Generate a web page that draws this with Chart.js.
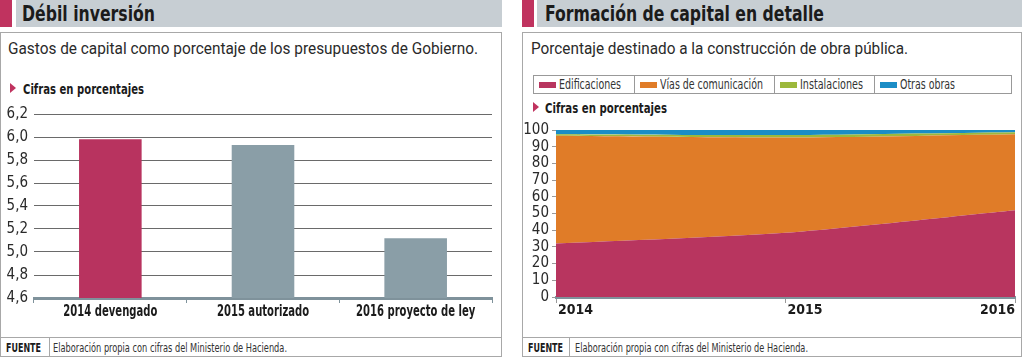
<!DOCTYPE html>
<html><head><meta charset="utf-8">
<script src="https://cdn.jsdelivr.net/npm/chart.js@4.4.0/dist/chart.umd.min.js"></script>
<style>
body{margin:0;width:1024px;height:357px;background:#fff;position:relative;overflow:hidden;font-family:'DejaVu Sans Condensed','DejaVu Sans',sans-serif;color:#222}
.a{position:absolute}
.fit{display:inline-block;transform-origin:0 0;white-space:nowrap}
.hdr{position:absolute;top:0;height:27px;background:#c7ced3}
.mag{position:absolute;top:0;height:27px;background:#c0335f}
.title{position:absolute;top:1px;font-weight:bold;font-size:22px;line-height:26px;color:#1b1b1b}
.panel{position:absolute;top:32px;height:325px;border:1px solid #a8a8a8;box-sizing:border-box}
.sub{position:absolute;font-family:Roboto,'Open Sans',sans-serif;font-size:16px;color:#2a2a2a;line-height:20px}
.cif{position:absolute;font-weight:bold;font-size:14px;color:#1b1b1b;line-height:16px}
.tri{position:absolute;width:0;height:0;border-top:5px solid transparent;border-bottom:5px solid transparent;border-left:6px solid #c0335f}
.fline{position:absolute;height:0;border-top:1px solid #a8a8a8}
.fsep{position:absolute;width:0;border-left:1px solid #a8a8a8}
.fu{position:absolute;font-weight:bold;font-size:12px;color:#1b1b1b;line-height:14px}
.ft{position:absolute;font-size:12px;color:#333;line-height:14px}
.lgbox{position:absolute;left:533px;top:75px;width:479px;height:19px;border:1px solid #999;box-sizing:border-box}
.lgsep{position:absolute;top:75px;height:19px;border-left:1px solid #999}
.sw{position:absolute;width:17px;height:6px;top:82px}
.lt{position:absolute;top:77px;font-size:14px;line-height:15px;color:#333}
</style></head><body>

<div class="mag" style="left:0;width:12px"></div>
<div class="hdr" style="left:16px;width:486px"></div>
<div class="title fit" data-w="133" style="left:22px">Débil inversión</div>
<div class="panel" style="left:0;width:502px"></div>
<div class="sub fit" data-w="470" style="left:8px;top:39px">Gastos de capital como porcentaje de los presupuestos de Gobierno.</div>
<div class="tri" style="left:10px;top:83px"></div>
<div class="cif fit" data-w="121" style="left:23px;top:81px">Cifras en porcentajes</div>
<div class="fline" style="left:0;width:502px;top:337px"></div>
<div class="fsep" style="left:49px;top:337px;height:19px"></div>
<div class="fu fit" data-w="35" style="left:6px;top:341px">FUENTE</div>
<div class="ft fit" data-w="234" style="left:53px;top:341px">Elaboración propia con cifras del Ministerio de Hacienda.</div>

<div class="mag" style="left:522px;width:12px"></div>
<div class="hdr" style="left:537px;width:485px"></div>
<div class="title fit" data-w="279" style="left:545px">Formación de capital en detalle</div>
<div class="panel" style="left:522px;width:500px"></div>
<div class="sub fit" data-w="377" style="left:531px;top:39px">Porcentaje destinado a la construcción de obra pública.</div>
<div class="lgbox"></div>
<div id="legend"></div>
<div class="tri" style="left:533px;top:102px"></div>
<div class="cif fit" data-w="122" style="left:545px;top:100px">Cifras en porcentajes</div>
<div class="fline" style="left:522px;width:500px;top:337px"></div>
<div class="fsep" style="left:569px;top:337px;height:19px"></div>
<div class="fu fit" data-w="35" style="left:528px;top:341px">FUENTE</div>
<div class="ft fit" data-w="233" style="left:575px;top:341px">Elaboración propia con cifras del Ministerio de Hacienda.</div>

<div class="a" style="left:0;top:99px"><canvas id="c1" width="502" height="233"></canvas></div>
<div class="a" style="left:522px;top:114px"><canvas id="c2" width="500" height="218"></canvas></div>

<script>
// ---- Data: left chart ----
const barCategories = ['2014 devengado', '2015 autorizado', '2016 proyecto de ley'];
const barValues = [5.98, 5.93, 5.12];
const barYMin = 4.6, barYMax = 6.2, barYStep = 0.2;

// ---- Data: right chart ----
const years = ['2014', '2015', '2016'];
const seriesNames = ['Edificaciones', 'Vías de comunicación', 'Instalaciones', 'Otras obras'];
const edificaciones = [32, 38.5, 52];
const viasComunicacion = [64.5, 57, 45.5];
const instalaciones = [1, 1.5, 1.2];
const otrasObras = [2.5, 3, 1.3];
const areaYMin = 0, areaYMax = 100, areaYStep = 10;

// ---- Styles ----
const MAG = '#b8335f', GREYBAR = '#8a9ea7';
const seriesColors = ['#b8355f', '#e07c28', '#9cb83c', '#1b8dc6'];
const AXIS = '#7f929b';
const FONT = "'DejaVu Sans Condensed','DejaVu Sans',sans-serif";

// legend layout (cell left edges and text widths)
const cellLefts = [533, 634, 774, 874];
const legendTextW = [62, 103, 63, 55];
const lg = document.getElementById('legend');
seriesNames.forEach((n, i) => {
  if (i > 0) { const s = document.createElement('div'); s.className = 'lgsep'; s.style.left = cellLefts[i] + 'px'; lg.appendChild(s); }
  const sw = document.createElement('div'); sw.className = 'sw';
  sw.style.left = (cellLefts[i] + 6) + 'px'; sw.style.background = seriesColors[i]; lg.appendChild(sw);
  const t = document.createElement('div'); t.className = 'lt fit'; t.dataset.w = legendTextW[i];
  t.style.left = (cellLefts[i] + 26) + 'px'; t.textContent = n; lg.appendChild(t);
});

document.querySelectorAll('.fit').forEach(el => {
  const w = el.getBoundingClientRect().width;
  const tw = +el.dataset.w;
  if (w > 0 && tw) el.style.transform = 'scaleX(' + (tw / w) + ')';
});

Chart.defaults.font.family = FONT;
Chart.defaults.color = '#2a2a2a';

// category labels drawn through the x scale, horizontally condensed
const catLabelPlugin = {
  id: 'catlabels',
  afterDraw(chart) {
    const sx = chart.scales.x, ctx = chart.ctx;
    ctx.save();
    ctx.font = 'bold 15px ' + FONT;
    ctx.fillStyle = '#1b1b1b';
    ctx.textBaseline = 'middle';
    ctx.textAlign = 'center';
    const k = 94 / ctx.measureText(barCategories[0]).width;
    barCategories.forEach((c, i) => {
      const px = sx.getPixelForValue(i);
      ctx.save();
      ctx.translate(px, sx.top + 14);
      ctx.scale(k, 1);
      ctx.fillText(c, 0, 0);
      ctx.restore();
    });
    ctx.restore();
  }
};

new Chart(document.getElementById('c1'), {
  type: 'bar',
  data: { labels: barCategories, datasets: [{ data: barValues, backgroundColor: [MAG, GREYBAR, GREYBAR], barPercentage: 0.82, categoryPercentage: 0.5 }] },
  plugins: [catLabelPlugin],
  options: {
    responsive: false, animation: false,
    layout: { padding: { top: 12, right: 10, left: 0, bottom: 0 } },
    plugins: { legend: { display: false }, tooltip: { enabled: false } },
    scales: {
      y: {
        min: barYMin, max: barYMax,
        afterFit(s) { s.width = 34; },
        border: { display: false },
        grid: { color: '#6a6a6a', lineWidth: 1, drawTicks: false },
        ticks: { stepSize: barYStep, padding: 6, autoSkip: false, font: { size: 15 }, color: '#2a2a2a',
          callback: v => v.toFixed(1).replace('.', ',') }
      },
      x: {
        afterFit(s) { s.height = 34; },
        border: { color: AXIS, width: 3 },
        grid: { offset: true, drawOnChartArea: false, drawTicks: true, tickLength: 5, color: AXIS, lineWidth: 1 },
        ticks: { display: false }
      }
    }
  }
});

const xLabelPlugin = {
  id: 'xlabels',
  afterDraw(chart) {
    const sx = chart.scales.x, ctx = chart.ctx;
    ctx.save();
    ctx.font = 'bold 14px ' + FONT;
    ctx.fillStyle = '#1b1b1b';
    ctx.textBaseline = 'top';
    years.forEach((y, i) => {
      const px = sx.getPixelForValue(i);
      const last = i === years.length - 1;
      ctx.textAlign = last ? 'right' : 'left';
      ctx.fillText(y, px + (last ? 0 : 2), sx.top + 6);
    });
    ctx.restore();
  }
};

const areaData = [edificaciones, viasComunicacion, instalaciones, otrasObras];
new Chart(document.getElementById('c2'), {
  type: 'line',
  data: {
    labels: years,
    datasets: areaData.map((d, i) => ({
      label: seriesNames[i], data: d,
      backgroundColor: seriesColors[i], borderColor: seriesColors[i], borderWidth: 0,
      fill: i === 0 ? 'origin' : '-1', pointRadius: 0, tension: 0.25
    }))
  },
  plugins: [xLabelPlugin],
  options: {
    responsive: false, animation: false,
    layout: { padding: { top: 16, right: 7, left: 0, bottom: 0 } },
    plugins: { legend: { display: false }, tooltip: { enabled: false }, filler: { propagate: false } },
    scales: {
      y: {
        stacked: true, min: areaYMin, max: areaYMax,
        afterFit(s) { s.width = 34; },
        border: { display: false },
        grid: { drawOnChartArea: false, drawTicks: true, tickLength: 4, color: '#9a9a9a' },
        ticks: { stepSize: areaYStep, padding: 3, autoSkip: false, font: { size: 15 }, color: '#2a2a2a' }
      },
      x: {
        afterFit(s) { s.height = 35; },
        border: { color: AXIS, width: 3 },
        grid: { drawOnChartArea: false, drawTicks: true, tickLength: 6, color: '#9a9a9a' },
        ticks: { display: false }
      }
    }
  }
});
</script>
</body></html>
